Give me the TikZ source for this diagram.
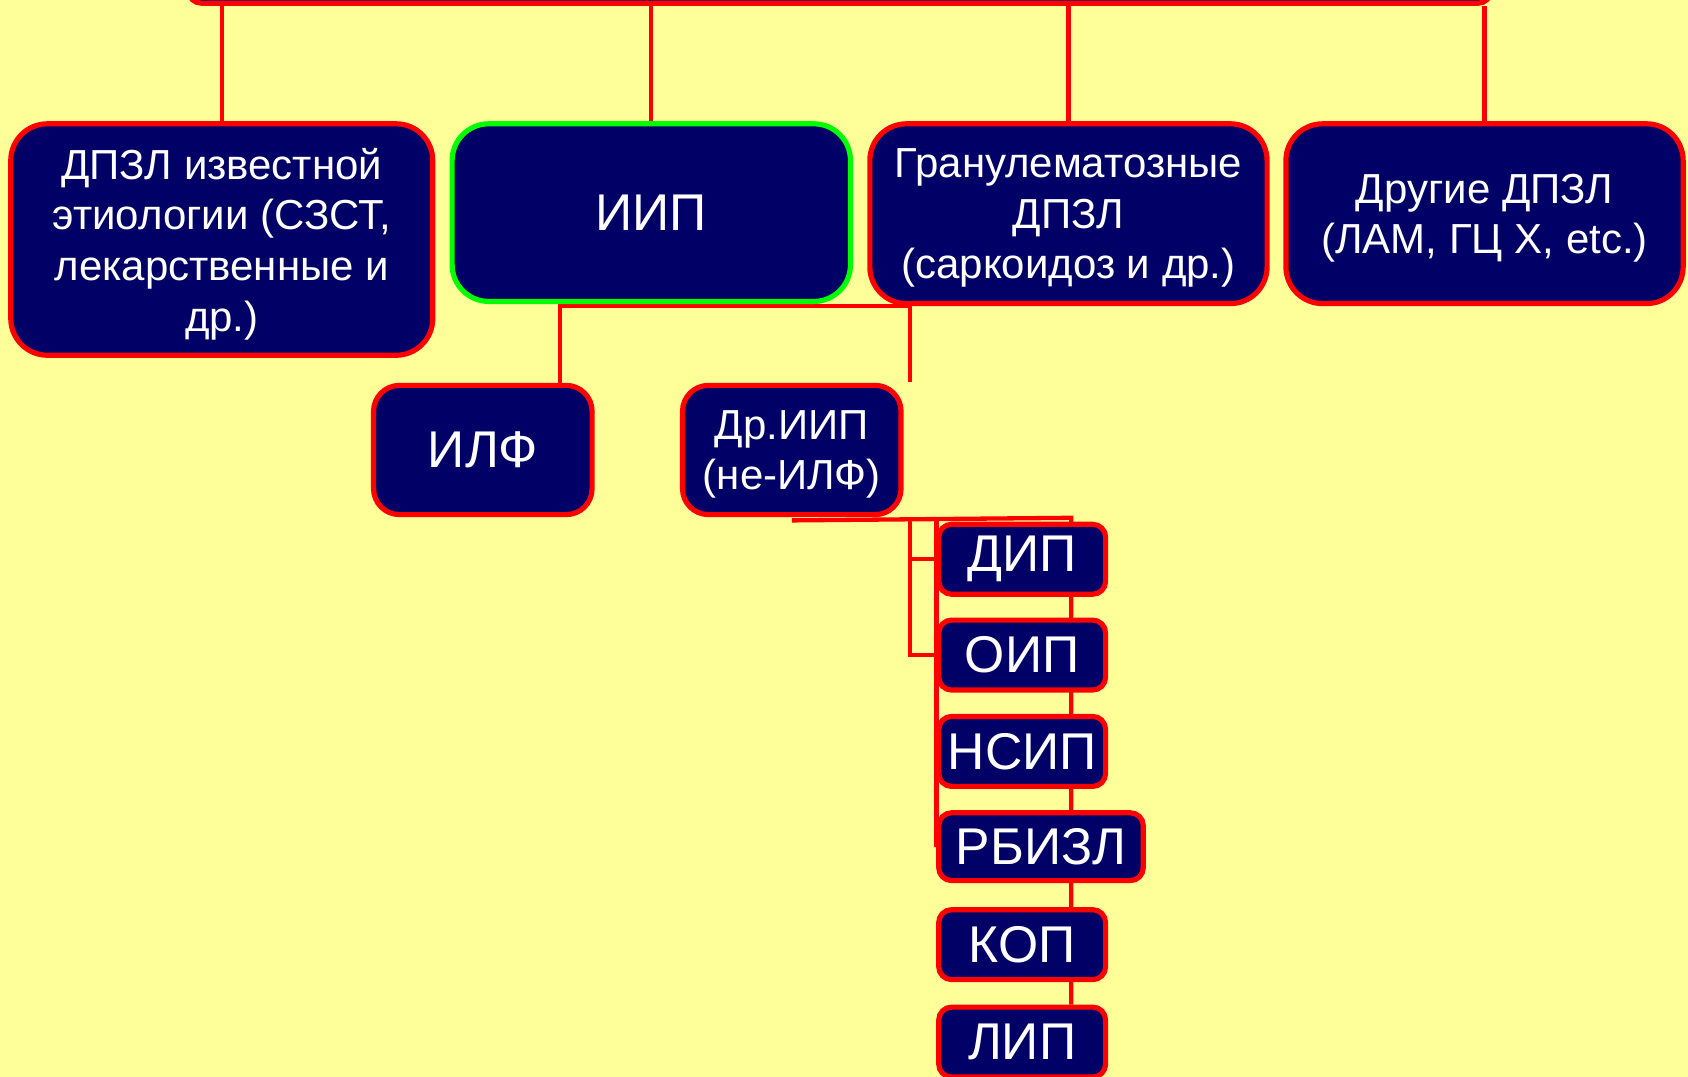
\documentclass[tikz,border=0pt]{standalone}
\usepackage{fontspec}
\setmainfont{Liberation Sans}
\pgfdeclarelayer{bg}
\pgfdeclarelayer{wires}
\pgfsetlayers{bg,wires,main}
\definecolor{paper}{RGB}{255,255,153}
\definecolor{navy}{RGB}{0,0,102}
\definecolor{edgered}{RGB}{255,0,0}
\definecolor{lime}{RGB}{0,255,0}

\begin{document}
\begin{tikzpicture}[x=0.5pt,y=-0.5pt,
  box/.style={draw=edgered, line width=2.4pt, fill=navy, text=white,
    inner sep=0pt, align=center, rounded corners=#1},
  box/.default=17pt,
  txt/.style={font=\fontsize{19.5}{23.5}\selectfont, text depth=-1pt},
  bigtxt/.style={font=\fontsize{24}{28}\selectfont},
  wide/.style={minimum width=184.5pt, minimum height=83.5pt},
  mid/.style={minimum width=101.5pt, minimum height=60pt},
  small/.style={minimum width=77.5pt, minimum height=32.5pt},
  wire/.style={draw=edgered, line width=2pt}]

\useasboundingbox (0,0) rectangle (1568,1000);
\begin{pgfonlayer}{bg}
  \fill[paper] (0,0) rectangle (1568,1000);
\end{pgfonlayer}
\clip (0,0) rectangle (1568,1000);

% root box, running off the top edge
\node[box=6pt, minimum width=605pt, minimum height=40pt] (top) at (780,-37) {};

% first level
\node[box, txt, minimum width=196pt, minimum height=107.5pt] (known) at (206,222.5)
  {ДПЗЛ известной\\этиологии (СЗСТ,\\лекарственные и\\др.)};
\node[box, draw=lime, bigtxt, minimum width=185pt, minimum height=82.5pt] (iip) at (605,197.5) {ИИП};
\node[box, txt, wide] (gran) at (992.5,198.5) {Гранулематозные\\ДПЗЛ\\(саркоидоз и др.)};
\node[box, txt, wide] (other) at (1379,198.5) {Другие ДПЗЛ\\(ЛАМ, ГЦ X, etc.)};

% second level
\node[box=12pt, bigtxt, mid] (ilf) at (448.5,418) {ИЛФ};
\node[box=12pt, txt, mid] (dr) at (735.5,418) {Др.ИИП\\(не-ИЛФ)};

% third level
\node[box=6pt, bigtxt, small] (dip) at (949.5,519.5) {ДИП};
\node[box=6pt, bigtxt, small] (oip) at (949.5,608.5) {ОИП};
\node[box=6pt, bigtxt, small] (nsip) at (949.5,698) {НСИП};
\node[box=6pt, bigtxt, minimum width=95pt, minimum height=31.5pt] (rb) at (967,786.5) {РБИЗЛ};
\node[box=6pt, bigtxt, small] (kop) at (949.5,877.5) {КОП};
\node[box=6pt, bigtxt, small] (lip) at (949.5,968) {ЛИП};

% connectors
\coordinate (busL) at (520,284);
\coordinate (busR) at (845,284);
\coordinate (stub) at (845,355);
\coordinate (dbarR) at (995,481);
\coordinate (forkA) at (845,481);
\coordinate (forkB) at (870,481);

\begin{pgfonlayer}{wires}
  \draw[wire] (known.north) -- (known.north |- top.south);
  \draw[wire] (iip.north) -- (iip.north |- top.south);
  \draw[wire] (gran.north) -- (gran.north |- top.south);
  \draw[wire] (other.north) -- (other.north |- top.south);

  \draw[wire] (busL |- ilf.north) -- (busL) -- (busR) -- (stub);

  \draw[wire] ([yshift=-1.5pt]dr.south) -- (dbarR) -- (dbarR |- lip.north);
  \draw[wire] (forkA) -- (forkA |- oip.west) -- (oip.west);
  \draw[wire] (forkA |- dip.west) -- (dip.west);
  \draw[wire] (forkB) -- (forkB |- rb.west) -- (rb.west);
\end{pgfonlayer}
\end{tikzpicture}
\end{document}
